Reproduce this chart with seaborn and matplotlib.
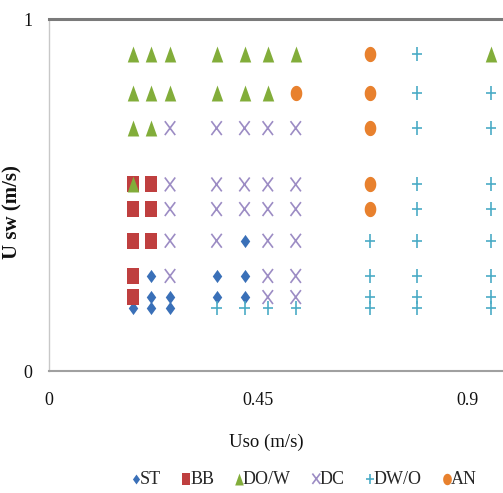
import numpy as np
import pandas as pd
import matplotlib.pyplot as plt
from matplotlib.path import Path
import seaborn as sns

# flow regime map points
st_x = [0.22, 0.36, 0.42, 0.42, 0.22, 0.26, 0.36, 0.42, 0.18, 0.22, 0.26]
st_y = [0.27, 0.27, 0.27, 0.37, 0.21, 0.21, 0.21, 0.21, 0.18, 0.18, 0.18]

bb_x = [0.18, 0.18, 0.18, 0.18, 0.18, 0.22, 0.22, 0.22]
bb_y = [0.53, 0.46, 0.37, 0.27, 0.21, 0.53, 0.46, 0.37]

dow_x = [0.18, 0.22, 0.26, 0.36, 0.42, 0.47, 0.53, 0.95,
         0.18, 0.22, 0.26, 0.36, 0.42, 0.47,
         0.18, 0.22, 0.18]
dow_y = [0.90, 0.90, 0.90, 0.90, 0.90, 0.90, 0.90, 0.90,
         0.79, 0.79, 0.79, 0.79, 0.79, 0.79,
         0.69, 0.69, 0.53]

dc_x = [0.26, 0.36, 0.42, 0.47, 0.53,
        0.26, 0.36, 0.42, 0.47, 0.53,
        0.26, 0.36, 0.42, 0.47, 0.53,
        0.26, 0.36, 0.47, 0.53,
        0.26, 0.47, 0.53,
        0.47, 0.53]
dc_y = [0.69] * 5 + [0.53] * 5 + [0.46] * 5 + [0.37] * 4 + [0.27] * 3 + [0.21] * 2

dwo_x = [0.79, 0.79, 0.95, 0.79, 0.95, 0.79, 0.95, 0.79, 0.95,
         0.69, 0.79, 0.95, 0.69, 0.79, 0.95, 0.69, 0.79, 0.95,
         0.36, 0.42, 0.47, 0.53, 0.69, 0.79, 0.95]
dwo_y = [0.90, 0.79, 0.79, 0.69, 0.69, 0.53, 0.53, 0.46, 0.46,
         0.37, 0.37, 0.37, 0.27, 0.27, 0.27, 0.21, 0.21, 0.21,
         0.18, 0.18, 0.18, 0.18, 0.18, 0.18, 0.18]

an_x = [0.69, 0.53, 0.69, 0.69, 0.69, 0.69]
an_y = [0.90, 0.79, 0.79, 0.69, 0.53, 0.46]

x_ticks = [0, 0.45, 0.9]
x_tick_labels = ["0", "0.45", "0.9"]
y_ticks = [0, 1]
y_tick_labels = ["0", "1"]

# tall marker shapes (the original picture is a bit stretched vertically)
rect = Path([(-0.68, -1), (0.68, -1), (0.68, 1), (-0.68, 1), (-0.68, -1)])
tri = Path([(-0.72, -1), (0.72, -1), (0, 1), (-0.72, -1)])
diam = Path([(0, -1), (0.72, 0), (0, 1), (-0.72, 0), (0, -1)])
t = np.linspace(0, 2 * np.pi, 40)
ell = Path(np.column_stack([0.76 * np.cos(t), np.sin(t)]))
cross = Path([(-0.75, -1), (0.75, 1), (-0.75, 1), (0.75, -1)],
             [Path.MOVETO, Path.LINETO, Path.MOVETO, Path.LINETO])
plus = Path([(-0.75, 0), (0.75, 0), (0, -1), (0, 1)],
            [Path.MOVETO, Path.LINETO, Path.MOVETO, Path.LINETO])

series = [
    ("ST", st_x, st_y, diam, "#3A70B8", 9.5, True),
    ("BB", bb_x, bb_y, rect, "#BF3F3F", 12, True),
    ("DO/W", dow_x, dow_y, tri, "#82AD3A", 11.5, True),
    ("DC", dc_x, dc_y, cross, "#9C8CC4", 10, False),
    ("DW/O", dwo_x, dwo_y, plus, "#4BACC6", 10, False),
    ("AN", an_x, an_y, ell, "#E8812E", 11, True),
]

sns.set_style("white")
plt.rcParams["font.family"] = ["Liberation Serif", "DejaVu Serif"]

fig = plt.figure(figsize=(5.03, 4.93), dpi=100)
ax = fig.add_axes([49 / 503, 122 / 493, 454 / 503, 352 / 493])

for name, xs, ys, mk, col, sz, filled in series:
    df = pd.DataFrame({"x": xs, "y": ys})
    if filled:
        sns.scatterplot(data=df, x="x", y="y", marker=mk, color=col, s=sz ** 2,
                        linewidth=0, ax=ax, label=name)
    else:
        sns.scatterplot(data=df, x="x", y="y", marker=mk, facecolor="none",
                        edgecolor=col, s=sz ** 2, linewidth=1.2, ax=ax, label=name)

ax.set_xlim(0, 454 / 465.5)
ax.set_ylim(0, 1)
ax.set_xticks(x_ticks)
ax.set_xticklabels(x_tick_labels)
ax.set_yticks(y_ticks)
ax.set_yticklabels(y_tick_labels)
ax.tick_params(axis="both", direction="out", length=4, width=1, color="#a6a6a6",
               labelsize=13, labelcolor="#111111")
ax.tick_params(axis="y", pad=8)
ax.tick_params(axis="x", pad=11)

ax.spines["right"].set_visible(False)
ax.spines["top"].set_color("#7a7a7a")
ax.spines["top"].set_linewidth(2.2)
ax.spines["bottom"].set_color("#a0a0a0")
ax.spines["bottom"].set_linewidth(1.5)
ax.spines["left"].set_color("#c8c8c8")
ax.spines["left"].set_linewidth(1)

ax.set_xlabel("Uso (m/s)", fontsize=13.5, color="#111111")
ax.xaxis.set_label_coords((266 - 49) / 454, -(442 - 371) / 352)
ax.xaxis.label.set_verticalalignment("center")
ax.set_ylabel("U sw (m/s)", fontsize=15, fontweight="bold", color="#111111")
ax.yaxis.set_label_coords(-27 / 454, (371 - 212) / 352)

handles, labels = ax.get_legend_handles_labels()
ax.legend_.remove()
fig.legend(handles, labels, loc="center", bbox_to_anchor=(302 / 503, 1 - 479 / 493),
           ncol=6, frameon=False, fontsize=13, markerscale=0.75,
           handletextpad=-0.3, columnspacing=0.9, handlelength=1.0)

fig.savefig("out.png", dpi=100)
